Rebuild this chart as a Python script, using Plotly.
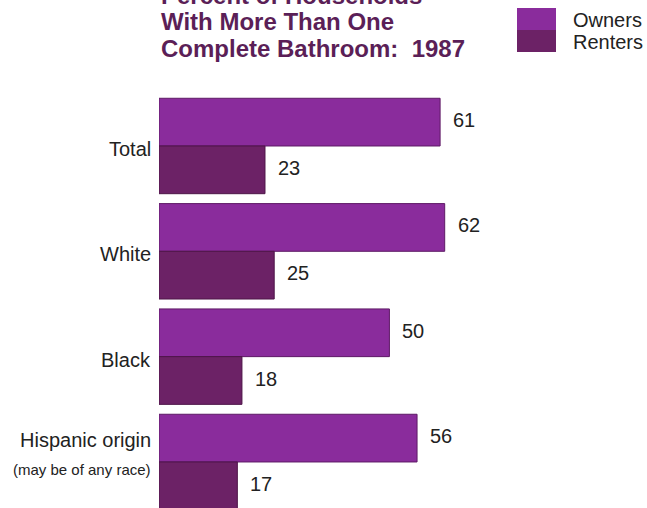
import plotly.graph_objects as go

# Data: percent of households with more than one complete bathroom, 1987
groups = ["Total", "White", "Black", "Hispanic origin"]
owners = [61, 62, 50, 56]
renters = [23, 25, 18, 17]

OWNER_COLOR = "#8a2c9c"
RENTER_COLOR = "#6c2266"
TITLE_COLOR = "#5b1f57"
FONT_FAMILY = "Liberation Sans, Arial, sans-serif"
TEXT_COLOR = "#222222"

BAR_GAP = 0.094
HALF = (1 - BAR_GAP) / 4  # offset of each bar's centre from its group centre

fig = go.Figure()
fig.add_trace(go.Bar(
    y=groups, x=owners, orientation="h", name="Owners",
    marker=dict(color=OWNER_COLOR, line=dict(color="#5e1a66", width=1)),
))
fig.add_trace(go.Bar(
    y=groups, x=renters, orientation="h", name="Renters",
    marker=dict(color=RENTER_COLOR, line=dict(color="#4e1548", width=1)),
))

fig.update_layout(
    width=647, height=508,
    margin=dict(l=159, r=0, t=0, b=0),
    paper_bgcolor="white", plot_bgcolor="white",
    barmode="group", bargap=BAR_GAP, bargroupgap=0,
    showlegend=False,
    xaxis=dict(range=[0, 105.9], visible=False, fixedrange=True),
    yaxis=dict(range=[3.437, -1.386], visible=False, fixedrange=True),
)

# Value labels just past the end of each bar
for i, (o, r) in enumerate(zip(owners, renters)):
    for val, off in ((o, -HALF), (r, HALF)):
        fig.add_annotation(
            x=val, y=i + off, text=str(val), showarrow=False,
            xanchor="left", yanchor="middle", xshift=11, yshift=2,
            font=dict(family=FONT_FAMILY, size=20, color=TEXT_COLOR),
        )

# Category labels to the left of the bars
for i, g in enumerate(groups):
    if g == "Hispanic origin":
        fig.add_annotation(
            xref="paper", x=0, y=i, text=g, showarrow=False,
            xanchor="right", yanchor="middle", xshift=-6, yshift=22,
            font=dict(family=FONT_FAMILY, size=20, color=TEXT_COLOR),
        )
        fig.add_annotation(
            xref="paper", x=0, y=i, text="(may be of any race)", showarrow=False,
            xanchor="right", yanchor="middle", xshift=-6, yshift=-8,
            font=dict(family=FONT_FAMILY, size=15, color=TEXT_COLOR),
        )
    else:
        fig.add_annotation(
            xref="paper", x=0, y=i, text=g, showarrow=False,
            xanchor="right", yanchor="middle", xshift=-6, yshift=-3,
            font=dict(family=FONT_FAMILY, size=20, color=TEXT_COLOR),
        )

# Title block, left-aligned above the bars
title_lines = ["Percent of Households", "With More Than One", "Complete Bathroom:  1987"]
for i, line in enumerate(title_lines):
    fig.add_annotation(
        text=f"<b>{line}</b>", xref="paper", yref="paper",
        x=0.0, y=1 - (-5 + 26.5 * i) / 508, xanchor="left", yanchor="middle",
        showarrow=False,
        font=dict(family=FONT_FAMILY, size=24, color=TITLE_COLOR),
    )

# Legend swatches and labels
legend_items = [("Owners", OWNER_COLOR), ("Renters", RENTER_COLOR)]
for i, (name, color) in enumerate(legend_items):
    y0 = 8 + 22 * i
    fig.add_shape(
        type="rect", xref="paper", yref="paper",
        x0=(517 - 159) / 488, x1=(556 - 159) / 488,
        y0=1 - (y0 + 22) / 508, y1=1 - y0 / 508,
        fillcolor=color, line=dict(width=0),
    )
    fig.add_annotation(
        text=name, xref="paper", yref="paper",
        x=(571 - 159) / 488, y=1 - (y0 + 12) / 508,
        xanchor="left", yanchor="middle", showarrow=False,
        font=dict(family=FONT_FAMILY, size=20, color=TEXT_COLOR),
    )

fig.write_html("out.html")
